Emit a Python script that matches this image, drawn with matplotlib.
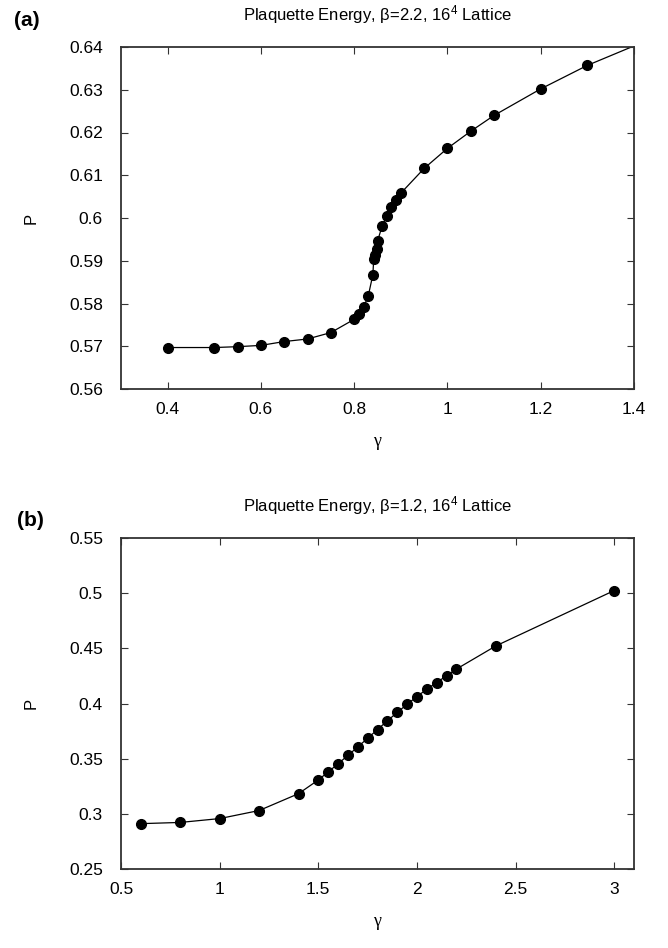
import numpy as np
import matplotlib
matplotlib.use("Agg")
import matplotlib.pyplot as plt
from matplotlib.ticker import FuncFormatter

plt.rcParams['font.family'] = ['Liberation Sans', 'DejaVu Sans']
plt.rcParams['mathtext.fontset'] = 'custom'
plt.rcParams['mathtext.rm'] = 'Liberation Sans'
plt.rcParams['mathtext.it'] = 'Liberation Sans:italic'

# (a) beta = 2.2
gamma_a = [0.4, 0.5, 0.55, 0.6, 0.65, 0.7, 0.75, 0.8, 0.81, 0.82, 0.83, 0.84,
           0.842, 0.845, 0.848, 0.85, 0.86, 0.87, 0.88, 0.89, 0.9, 0.95,
           1.0, 1.05, 1.1, 1.2, 1.3, 1.5]
P_a = [0.5697, 0.5697, 0.5699, 0.5702, 0.5711, 0.5717, 0.5732, 0.5763, 0.5775,
       0.5791, 0.5817, 0.5867, 0.5905, 0.5914, 0.5928, 0.5946, 0.5981, 0.6004,
       0.6025, 0.6042, 0.6058, 0.6116, 0.6163, 0.6203, 0.6240, 0.6302, 0.6357,
       0.6448]

# (b) beta = 1.2
gamma_b = [0.6, 0.8, 1.0, 1.2, 1.4, 1.5, 1.55, 1.6, 1.65, 1.7, 1.75, 1.8, 1.85,
           1.9, 1.95, 2.0, 2.05, 2.1, 2.15, 2.2, 2.4, 3.0]
P_b = [0.2911, 0.2922, 0.2957, 0.3030, 0.3183, 0.3307, 0.3380, 0.3453, 0.3530,
       0.3606, 0.3685, 0.3764, 0.3843, 0.3919, 0.3993, 0.4063, 0.4130, 0.4190,
       0.4252, 0.4312, 0.4522, 0.5024]

W, H = 668, 948
fig = plt.figure(figsize=(W / 100, H / 100), dpi=100)


def box(l, t, r, b):
    return [l / W, 1 - b / H, (r - l) / W, (b - t) / H]


def style(ax, xlim, ylim, xt, yt, title):
    ax.set_xlim(*xlim)
    ax.set_ylim(*ylim)
    ax.set_xticks(xt)
    ax.set_yticks(yt)
    fmt = FuncFormatter(lambda v, p: '%g' % round(v, 4))
    ax.xaxis.set_major_formatter(fmt)
    ax.yaxis.set_major_formatter(fmt)
    ax.tick_params(direction='in', top=True, right=True, length=5, width=0.8,
                   color='#333333', labelsize=12.5)
    ax.tick_params(axis='y', pad=13)
    ax.tick_params(axis='x', pad=9)
    for s in ax.spines.values():
        s.set_linewidth(1.3)
        s.set_color('#333333')
    ax.set_xlabel('\u03b3', fontsize=13, family=['Liberation Serif'], labelpad=12)
    ax.set_ylabel('P', fontsize=12, labelpad=22)
    ax.set_title(title, fontsize=12, pad=19)


ax1 = fig.add_axes(box(121, 47, 634, 389))
ax1.plot(gamma_a, P_a, '-o', color='black', lw=0.9, ms=7, clip_on=True)
style(ax1, (0.3, 1.4), (0.56, 0.64), np.arange(0.4, 1.41, 0.2),
      np.arange(0.56, 0.641, 0.01), r'Plaquette Energy, β=2.2, 16$^4$ Lattice')

ax2 = fig.add_axes(box(121, 538, 634, 869))
ax2.plot(gamma_b, P_b, '-o', color='black', lw=0.9, ms=7, clip_on=True)
style(ax2, (0.5, 3.1), (0.25, 0.55), np.arange(0.5, 3.01, 0.5),
      np.arange(0.25, 0.551, 0.05), r'Plaquette Energy, β=1.2, 16$^4$ Lattice')

fig.text(27 / W, 1 - 20 / H, '(a)', fontsize=15, fontweight='bold', ha='center', va='center')
fig.text(30 / W, 1 - 520 / H, '(b)', fontsize=15, fontweight='bold', ha='center', va='center')

fig.savefig('out.png', dpi=100)
